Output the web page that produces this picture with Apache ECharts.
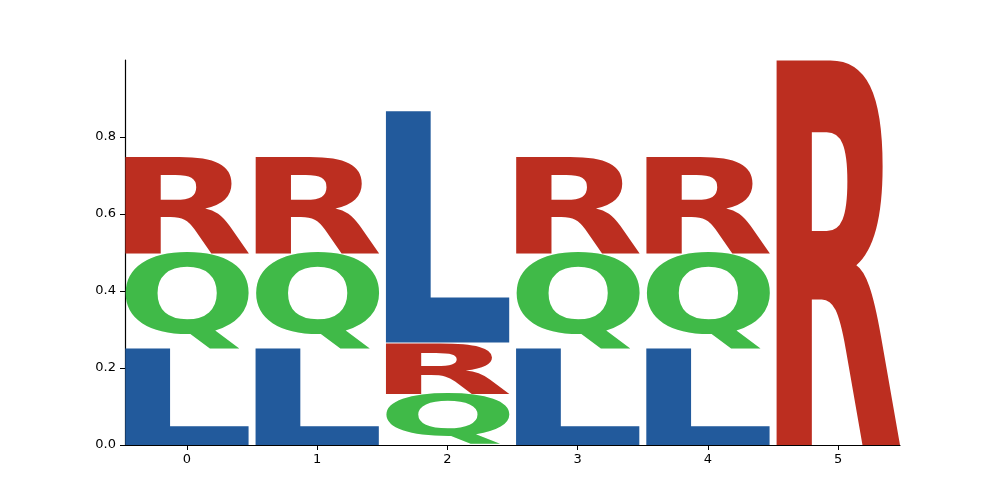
<!DOCTYPE html>
<html>
<head>
<meta charset="utf-8">
<script src="https://cdn.jsdelivr.net/npm/echarts@6/dist/echarts.min.js"></script>
<style>
  html, body { margin: 0; padding: 0; background: #fff; }
  #chart { width: 1000px; height: 500px; }
</style>
</head>
<body>
<div id="chart"></div>
<script>
// positions and tick labels
var positions = [0, 1, 2, 3, 4, 5];
var xTicks = [0, 1, 2, 3, 4, 5];
var yTicks = [0, 0.2, 0.4, 0.6, 0.8];

// letter heights per position
var letters = ['L', 'Q', 'R'];
var heightL = [0.25, 0.25, 0.602, 0.25, 0.25, 0];
var heightQ = [0.25, 0.25, 0.133, 0.25, 0.25, 0];
var heightR = [0.25, 0.25, 0.133, 0.25, 0.25, 1.0];

var colors = { L: '#225a9c', Q: '#40ba48', R: '#bc2e20' };
var glyphFont = 'bold 200px "DejaVu Sans"';
var letterWidth = 0.95;

// measure the ink box of each glyph so it can be stretched to fill its box
var cv = document.createElement('canvas');
var ctx = cv.getContext('2d');
ctx.font = glyphFont;
ctx.textAlign = 'left';
ctx.textBaseline = 'middle';
var metrics = {};
letters.forEach(function (ch) {
  var m = ctx.measureText(ch);
  metrics[ch] = {
    left: m.actualBoundingBoxLeft,
    right: m.actualBoundingBoxRight,
    ascent: m.actualBoundingBoxAscent,
    descent: m.actualBoundingBoxDescent
  };
});

// stack letters: smallest at the bottom
var heights = { L: heightL, Q: heightQ, R: heightR };
var stackData = [];
positions.forEach(function (p, i) {
  var items = letters.map(function (ch, k) { return { ch: ch, k: k, v: heights[ch][i] }; })
    .filter(function (d) { return d.v > 0; });
  items.sort(function (a, b) { return a.v - b.v || a.k - b.k; });
  var base = 0;
  items.forEach(function (d) {
    stackData.push([p, base, base + d.v, d.k]);
    base += d.v;
  });
});

var myChart = echarts.init(document.getElementById('chart'), null, { renderer: 'canvas' });

var option = {
  animation: false,
  backgroundColor: '#fff',
  grid: { left: 125, right: 100, top: 60, bottom: 55 },
  xAxis: {
    type: 'value',
    min: -0.475,
    max: 5.475,
    splitLine: { show: false },
    axisLine: { onZero: false, lineStyle: { color: '#000', width: 1.2 } },
    axisTick: { show: true, customValues: xTicks, length: 5, lineStyle: { color: '#000' } },
    axisLabel: {
      customValues: xTicks,
      color: '#000',
      fontSize: 13,
      fontFamily: 'DejaVu Sans',
      margin: 8
    }
  },
  yAxis: {
    type: 'value',
    min: 0,
    max: 1,
    splitLine: { show: false },
    axisLine: { show: true, onZero: false, lineStyle: { color: '#000', width: 1.2 } },
    axisTick: { show: true, customValues: yTicks, length: 5, lineStyle: { color: '#000' } },
    axisLabel: {
      customValues: yTicks,
      color: '#000',
      fontSize: 13,
      fontFamily: 'DejaVu Sans',
      margin: 9,
      formatter: function (v) { return v.toFixed(1); }
    }
  },
  series: [{
    type: 'custom',
    clip: true,
    data: stackData,
    renderItem: function (params, api) {
      var pos = api.value(0);
      var bottom = api.value(1);
      var top = api.value(2);
      var ch = letters[api.value(3)];
      var m = metrics[ch];
      var p0 = api.coord([pos - letterWidth / 2, top]);
      var p1 = api.coord([pos + letterWidth / 2, bottom]);
      var w = p1[0] - p0[0];
      var h = p1[1] - p0[1];
      var sx = w / (m.left + m.right);
      var sy = h / (m.ascent + m.descent);
      return {
        type: 'text',
        x: p0[0] + m.left * sx,
        y: p0[1] + m.ascent * sy,
        scaleX: sx,
        scaleY: sy,
        style: {
          x: 0,
          y: 0,
          text: ch,
          font: glyphFont,
          fill: colors[ch],
          align: 'left',
          verticalAlign: 'middle'
        }
      };
    }
  }]
};

myChart.setOption(option);
</script>
</body>
</html>
